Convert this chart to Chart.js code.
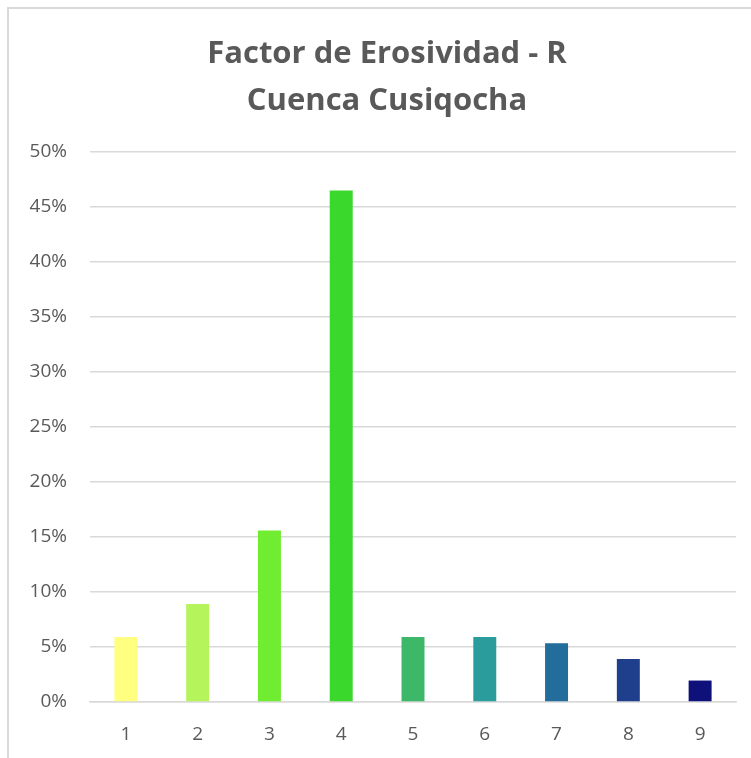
<!DOCTYPE html>
<html>
<head>
<meta charset="utf-8">
<script src="https://cdn.jsdelivr.net/npm/chart.js@4/dist/chart.umd.min.js"></script>
<style>
    body { margin: 0; background: #fff; }
    #wrap { position: relative; width: 751px; height: 758px; overflow: hidden; }
    #frame {
        position: absolute; left: 7px; top: 7px; width: 800px; height: 800px;
        border-left: 2px solid #d9d9d9; border-top: 2px solid #d9d9d9;
    }
    canvas { position: absolute; left: 0; top: 0; }
</style>
</head>
<body>
<div id="wrap">
    <div id="frame"></div>
    <canvas id="myChart" width="751" height="758"></canvas>
</div>
<script>
// clases de erosividad
var categories = ['1', '2', '3', '4', '5', '6', '7', '8', '9'];
// porcentaje del area de la cuenca
var percentages = [5.9, 8.9, 15.6, 46.5, 5.9, 5.9, 5.35, 3.9, 1.95];
var barColors = ['#ffff80', '#b5f45a', '#70ec31', '#3ad72d', '#3db868', '#2a9c9c', '#226d9c', '#1f3f8c', '#0f117a'];
var titleLines = ['Factor de Erosividad - R', 'Cuenca Cusiqocha'];

var fontFamily = "'Open Sans', sans-serif";
var textColor = '#595959';
var gridColor = '#d9d9d9';

// centra el titulo dentro del marco (que empieza en x=7)
var shiftTitle = {
    id: 'shiftTitle',
    afterLayout: function (chart) {
        if (chart.titleBlock) {
            chart.titleBlock.left = 38;
            chart.titleBlock.right = 736;
        }
    }
};

var ctx = document.getElementById('myChart').getContext('2d');

var chart = new Chart(ctx, {
    type: 'bar',
    data: {
        labels: categories,
        datasets: [{
            data: percentages,
            backgroundColor: barColors,
            borderWidth: 0,
            categoryPercentage: 1,
            barPercentage: 0.32
        }]
    },
    options: {
        responsive: false,
        animation: false,
        layout: { padding: { left: 0, right: 15, top: 0, bottom: 0 } },
        plugins: {
            legend: { display: false },
            tooltip: { enabled: false },
            title: {
                display: true,
                text: titleLines,
                color: textColor,
                font: { family: fontFamily, size: 31, weight: 'bold', lineHeight: 1.5 },
                padding: { top: 31, bottom: 28 }
            }
        },
        scales: {
            x: {
                grid: { display: false },
                border: { color: gridColor, width: 1.5 },
                ticks: { color: textColor, padding: 13, font: { family: fontFamily, size: 19 } },
                afterFit: function (scale) { scale.height = 56; }
            },
            y: {
                min: 0,
                max: 50,
                grid: { color: gridColor, lineWidth: 1.5, drawTicks: false },
                border: { display: false },
                ticks: {
                    stepSize: 5,
                    color: textColor,
                    padding: 23,
                    font: { family: fontFamily, size: 19 },
                    callback: function (v) { return v + '%'; }
                },
                afterFit: function (scale) { scale.width = 90; }
            }
        }
    },
    plugins: [shiftTitle]
});
</script>
</body>
</html>
